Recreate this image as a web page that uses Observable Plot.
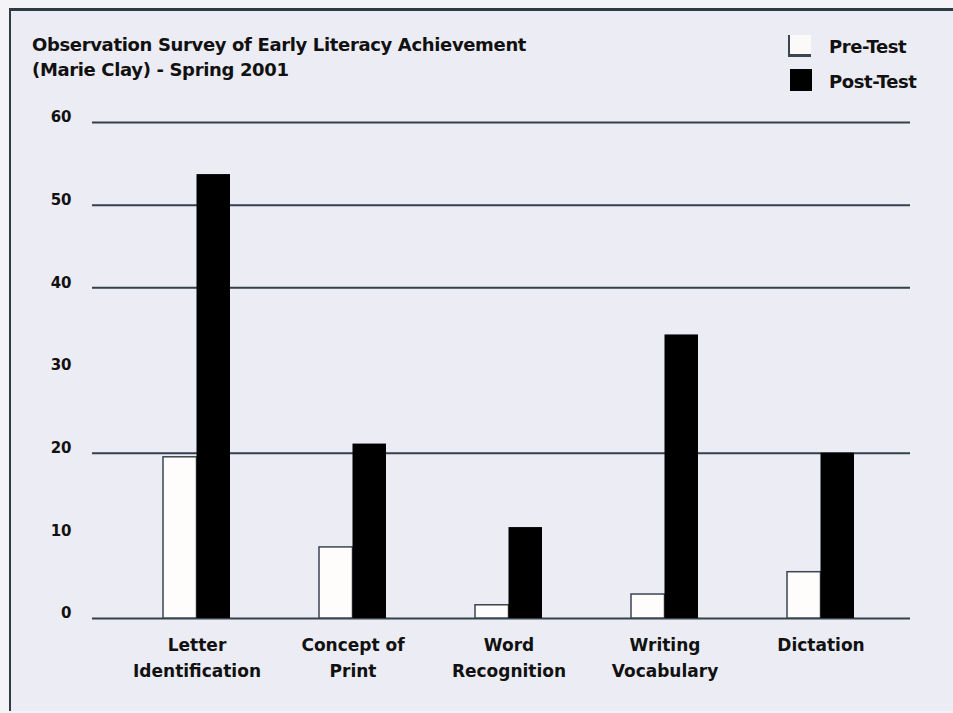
<!DOCTYPE html>
<html><head><meta charset="utf-8">
<script src="https://cdn.jsdelivr.net/npm/d3@7"></script>
<script src="https://cdn.jsdelivr.net/npm/@observablehq/plot@0.6"></script>
<style>
body{margin:0;background:#f4f3f8;font-family:"DejaVu Sans",sans-serif;color:#111;}
#page{position:relative;width:953px;height:713px;overflow:hidden;}
#frame{position:absolute;left:9px;top:8px;width:960px;height:700px;border-left:2px solid #2f3b45;border-top:3px solid #2f3b45;background:#ececf4;}
#header{position:relative;height:100px;font-weight:700;}
#title{position:absolute;left:32px;top:32px;font-size:18px;line-height:25px;letter-spacing:-0.35px;white-space:nowrap;}
.pre{position:absolute;left:788px;top:35px;width:23px;height:22px;border-left:2px solid #3a4650;border-bottom:3px solid #3a4650;background:#fbfaf8;box-sizing:border-box;}
.post{position:absolute;left:790px;top:69px;width:22px;height:22px;background:#000;}
.lab{position:absolute;left:829px;font-size:18px;line-height:20px;letter-spacing:-0.4px;white-space:nowrap;}
#chart{position:relative;}
</style></head>
<body>
<div id="page">
  <div id="frame"></div>
  <div id="header">
    <div id="title">Observation Survey of Early Literacy Achievement<br>(Marie Clay) - Spring 2001</div>
    <span class="pre"></span><span class="lab" style="top:37px">Pre-Test</span>
    <span class="post"></span><span class="lab" style="top:72px">Post-Test</span>
  </div>
  <div id="chart"></div>
</div>
<script>
const categories = ["Letter Identification", "Concept of Print", "Word Recognition", "Writing Vocabulary", "Dictation"];
const xTickLabels = ["Letter\nIdentification", "Concept of\nPrint", "Word\nRecognition", "Writing\nVocabulary", "Dictation"];
const preTest = [19.5, 8.6, 1.6, 2.9, 5.6];
const postTest = [53.7, 21.1, 11.0, 34.3, 20.0];
const yTicks = [0, 10, 20, 30, 40, 50, 60];
const gridLines = [0, 20, 40, 50, 60];

const rows = categories.map((c, i) => ({category: c, pre: preTest[i], post: postTest[i]}));
const labelOf = new Map(categories.map((c, i) => [c, xTickLabels[i]]));

const chart = Plot.plot({
  width: 953,
  height: 613,
  marginLeft: 92,
  marginRight: 43,
  marginTop: 22,
  marginBottom: 95,
  style: {background: "transparent", color: "#111", fontFamily: "'DejaVu Sans', sans-serif"},
  x: {domain: categories, paddingInner: 0.5724, paddingOuter: 0.3963, align: 0.56, axis: null},
  y: {domain: [0, 60], axis: null},
  marks: [
    Plot.ruleY(gridLines, {stroke: "#33414b", strokeWidth: 2}),
    Plot.barY(rows, {x: "category", y: "pre", fill: "#fffdfb", stroke: "#3a4650", strokeWidth: 1.5, insetRight: 33.5}),
    Plot.barY(rows, {x: "category", y: "post", fill: "#000", insetLeft: 33.5}),
    Plot.axisY(yTicks, {tickSize: 0, tickPadding: 21, fontSize: 15, fontWeight: "bold", dy: -5, label: null}),
    Plot.axisX(categories, {tickSize: 0, tickPadding: 14, fontSize: 17, fontWeight: "bold", lineHeight: 1.53, letterSpacing: -0.3, label: null, tickFormat: d => labelOf.get(d)})
  ]
});
document.getElementById("chart").appendChild(chart);
</script>
</body></html>
